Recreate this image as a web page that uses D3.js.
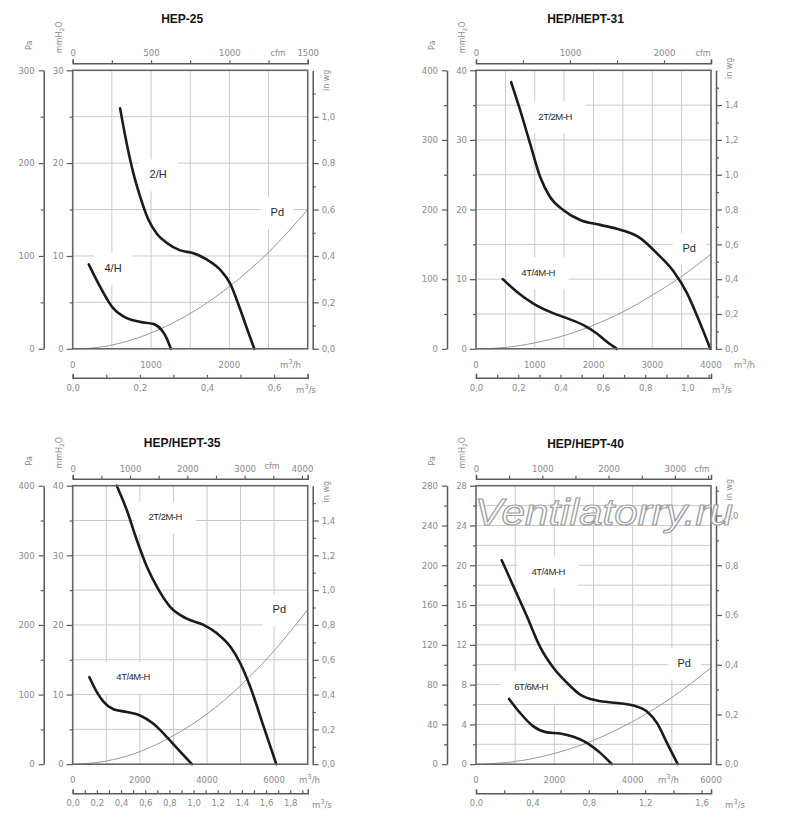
<!DOCTYPE html>
<meta charset="utf-8">
<script src="https://d3js.org/d3.v7.min.js"></script>
<style>
  body { margin: 0; background: #fff; }
  text { font-family: "DejaVu Sans", sans-serif; }
</style>
<div id="chart"></div>
<script>
// ---- data: [m3/h, Pa] ----
// HEP-25
var hep25_2H = [[605,259],[690,221],[775,189],[861,164],[967,139],[1074,124],[1202,114],[1372,106],[1542,103],[1714,96],[1884,85],[2012,70],[2140,42],[2245,17],[2318,0]];
var hep25_4H = [[205,91],[349,67],[519,43.5],[690,33],[861,29],[1031,26.6],[1138,20],[1202,11],[1253,0]];
var hep25_Pd = [[150,0],[500,4],[1000,17],[1500,38],[2000,67],[2500,104],[3000,150]];
// HEP/HEPT-31
var hep31_2T = [[597,383],[750,343],[920,295],[1091,247],[1261,218],[1489,199],[1773,185],[2114,178],[2455,171],[2795,159],[3080,137],[3364,111],[3591,80],[3818,36],[3989,0]];
var hep31_4T = [[455,100],[693,82],[977,65],[1261,53],[1545,44],[1830,34],[2057,22],[2227,10],[2398,0]];
var hep31_Pd = [[120,0],[500,2],[1000,8.5],[1500,19],[2000,34],[2500,53],[3000,77],[3500,104],[4000,136]];
// HEP/HEPT-35
var hep35_2T = [[1313,400],[1611,365],[1909,322],[2207,284],[2506,255],[2903,226],[3400,209],[3898,200],[4296,188],[4693,169],[4991,145],[5290,111],[5688,54],[6065,0]];
var hep35_4T = [[497,125],[716,104],[915,90],[1213,79],[1611,75],[2008,70],[2406,58],[2804,39],[3202,18],[3550,0]];
var hep35_Pd = [[120,0],[1000,4.5],[2000,18],[3000,41],[4000,72],[5000,113],[6000,163],[7000,222]];
// HEP/HEPT-40
var hep40_4T = [[657,205],[954,179],[1296,149],[1636,118],[1976,97],[2319,82],[2659,70],[3086,64],[3597,61.6],[4021,59],[4364,53],[4619,41.5],[4875,21.5],[5150,0]];
var hep40_6T = [[844,65.6],[1125,51.6],[1465,38],[1807,32],[2147,30.8],[2488,27.5],[2830,21.5],[3171,11.4],[3469,0]];
var hep40_Pd = [[190,0],[1000,2.7],[2000,10.8],[3000,24],[4000,43],[5000,67],[6000,97]];

// ---- tick labels ----
var hep25_flowLabels = [0, 1000, 2000];
var hep25_paLabels = [0, 100, 200, 300];
var hep25_cfmLabels = [0, 500, 1000, 1500];
var hep31_flowLabels = [0, 1000, 2000, 3000, 4000];
var hep31_paLabels = [0, 100, 200, 300, 400];
var hep31_cfmLabels = [0, 1000, 2000];
var hep35_flowLabels = [0, 2000, 4000, 6000];
var hep35_paLabels = [0, 100, 200, 300, 400];
var hep35_cfmLabels = [0, 1000, 2000, 3000, 4000];
var hep40_flowLabels = [0, 2000, 4000, 6000];
var hep40_paLabels = [0, 40, 80, 120, 160, 200, 240, 280];
var hep40_cfmLabels = [0, 1000, 2000, 3000];

var W = 235, H = 278.5;
var grey = "#8a8a8a", axisCol = "#5a5a5a";

var panels = [
  {title: "HEP-25", left: 72.7, top: 70.3, titleDy: 47, inwgDy: 10,
   flowMax: 3000, flowGrid: 500, flowLabels: hep25_flowLabels,
   paMax: 300, paGrid: 50, paLabels: hep25_paLabels,
   cfmMax: 1500, cfmStep: 250, cfmLabels: hep25_cfmLabels, cfmUnitX: 278, cfmUnitDy: 0,
   m3sMax: 0.7, m3sStep: 1, m3sLabel: 2, m3hUnitX: 290, m3sUnitX: 306,
   curves: [
     {pts: hep25_2H, name: "2/H", lx: 1091, ly: 188},
     {pts: hep25_4H, name: "4/H", lx: 515, ly: 87}
   ],
   pd: hep25_Pd, pdLabel: [2612, 147]},
  {title: "HEP/HEPT-31", left: 476, top: 70.3, titleDy: 47, inwgDy: -2,
   flowMax: 4000, flowGrid: 500, flowLabels: hep31_flowLabels,
   paMax: 400, paGrid: 50, paLabels: hep31_paLabels,
   cfmMax: 2500, cfmStep: 500, cfmLabels: hep31_cfmLabels, cfmUnitX: 703, cfmUnitDy: 0,
   m3sMax: 4000 / 3600, m3sStep: 1, m3sLabel: 2, m3hUnitX: 744, m3sUnitX: 722,
   curves: [
     {pts: hep31_2T, name: "2T/2M-H", lx: 1346, ly: 334},
     {pts: hep31_4T, name: "4T/4M-H", lx: 1057, ly: 110}
   ],
   pd: hep31_Pd, pdLabel: [3630, 145]},
  {title: "HEP/HEPT-35", left: 72.7, top: 485.7, titleDy: 39, inwgDy: 6,
   flowMax: 7000, flowGrid: 1000, flowLabels: hep35_flowLabels,
   paMax: 400, paGrid: 50, paLabels: hep35_paLabels,
   cfmMax: 4100, cfmStep: 500, cfmLabels: hep35_cfmLabels, cfmUnitX: 272, cfmUnitDy: -3,
   m3sMax: 7000 / 3600, m3sStep: 1, m3sLabel: 2, m3hUnitX: 309, m3sUnitX: 322,
   curves: [
     {pts: hep35_2T, name: "2T/2M-H", lx: 2754, ly: 355},
     {pts: hep35_4T, name: "4T/4M-H", lx: 1799, ly: 125}
   ],
   pd: hep35_Pd, pdLabel: [6155, 223]},
  {title: "HEP/HEPT-40", left: 476, top: 485.7, titleDy: 38, inwgDy: 4,
   flowMax: 6000, flowGrid: 1000, flowLabels: hep40_flowLabels,
   paMax: 280, paGrid: 20, paLabels: hep40_paLabels,
   cfmMax: 3545, cfmStep: 500, cfmLabels: hep40_cfmLabels, cfmUnitX: 702, cfmUnitDy: 0,
   m3sMax: 6000 / 3600, m3sStep: 2, m3sLabel: 4, m3hUnitX: 668, m3sUnitX: 735,
   curves: [
     {pts: hep40_4T, name: "4T/4M-H", lx: 1841, ly: 194},
     {pts: hep40_6T, name: "6T/6M-H", lx: 1406, ly: 78}
   ],
   pd: hep40_Pd, pdLabel: [5317, 102]}
];

var svg = d3.select("#chart").append("svg")
    .attr("width", 800)
    .attr("height", 825);

var comma = function(v) { return d3.format(".1f")(v).replace(".", ","); };

function styleAxis(sel) {
  sel.selectAll("text").attr("fill", grey).style("font-size", "8.5px").style("font-family", "DejaVu Sans");
  sel.selectAll(".tick line").attr("stroke", axisCol).attr("stroke-width", 1.2);
  sel.select(".domain").attr("stroke", axisCol).attr("stroke-width", 1.5);
}

function unitText(g, x, y, base, sup, rest) {
  var t = g.append("text").attr("x", x).attr("y", y)
    .attr("fill", grey).style("font-size", "8.5px");
  t.append("tspan").text(base);
  t.append("tspan").attr("dy", -4).style("font-size", "7px").text(sup);
  t.append("tspan").attr("dy", 4).text(rest);
  return t;
}

function drawPanel(p) {
  var g = svg.append("g");
  var x = d3.scaleLinear().domain([0, p.flowMax]).range([p.left, p.left + W]);
  var y = d3.scaleLinear().domain([0, p.paMax]).range([p.top + H, p.top]);

  // grid
  g.append("g").selectAll("line")
    .data(d3.range(p.flowGrid, p.flowMax, p.flowGrid))
    .join("line")
      .attr("x1", function(d) { return x(d); }).attr("x2", function(d) { return x(d); })
      .attr("y1", p.top).attr("y2", p.top + H)
      .attr("stroke", "#cacaca").attr("stroke-width", 1);
  g.append("g").selectAll("line")
    .data(d3.range(p.paGrid, p.paMax, p.paGrid))
    .join("line")
      .attr("x1", p.left).attr("x2", p.left + W)
      .attr("y1", function(d) { return y(d); }).attr("y2", function(d) { return y(d); })
      .attr("stroke", "#cacaca").attr("stroke-width", 1);

  // white boxes behind curve labels (they break the grid)
  var labs = p.curves.map(function(c) { return {name: c.name, x: c.lx, y: c.ly, big: false}; });
  labs.push({name: "Pd", x: p.pdLabel[0], y: p.pdLabel[1], big: true});
  var lw = function(d) { return d.name.length * 5.6 + 22; };
  g.append("g").selectAll("rect")
    .data(labs)
    .join("rect")
      .attr("x", function(d) { return x(d.x) - lw(d) / 2; })
      .attr("y", function(d) { return y(d.y) - 15; })
      .attr("width", lw)
      .attr("height", 32)
      .attr("fill", "#fff");

  var line = d3.line()
    .x(function(d) { return x(d[0]); })
    .y(function(d) { return y(d[1]); })
    .curve(d3.curveMonotoneX);

  // Pd
  g.append("path").datum(p.pd)
    .attr("d", line)
    .attr("fill", "none").attr("stroke", "#8c8c8c").attr("stroke-width", 0.9);

  // fan curves
  g.selectAll(".curve")
    .data(p.curves)
    .join("path")
      .attr("class", "curve")
      .attr("d", function(d) { return line(d.pts); })
      .attr("fill", "none").attr("stroke", "#1b1b1b").attr("stroke-width", 2.6)
      .attr("stroke-linecap", "round");

  // curve labels
  g.append("g").selectAll("text")
    .data(labs)
    .join("text")
      .attr("x", function(d) { return x(d.x); })
      .attr("y", function(d) { return y(d.y); })
      .attr("dy", "0.35em")
      .attr("text-anchor", "middle")
      .style("font-family", "Liberation Sans")
      .style("font-size", function(d) { return d.big ? "11px" : (d.name.length > 4 ? "9.5px" : "11px"); })
      .style("letter-spacing", function(d) { return d.name.length > 4 ? "-0.5px" : "0px"; })
      .attr("fill", "#2a2a2a")
      .text(function(d) { return d.name; });

  // plot frame
  g.append("rect")
    .attr("x", p.left).attr("y", p.top).attr("width", W).attr("height", H)
    .attr("fill", "none").attr("stroke", "#666").attr("stroke-width", 1.6);

  // Pa axis (outer left)
  var paTicks = d3.range(0, p.paMax + 0.001, p.paGrid);
  var paAx = g.append("g")
    .attr("transform", "translate(" + (p.left - 29) + ",0)")
    .call(d3.axisLeft(y).tickValues(paTicks).tickSize(5).tickSizeOuter(0).tickPadding(4)
      .tickFormat(function(d) { return p.paLabels.indexOf(d) >= 0 ? d : ""; }));
  styleAxis(paAx);
  paAx.selectAll(".tick").filter(function(d) { return p.paLabels.indexOf(d) < 0; })
    .select("line").attr("x2", -3);

  // mmH2O axis (on the frame)
  var ymm = d3.scaleLinear().domain([0, p.paMax / 10]).range([p.top + H, p.top]);
  var mmAx = g.append("g")
    .attr("transform", "translate(" + p.left + ",0)")
    .call(d3.axisLeft(ymm).tickValues(paTicks.map(function(d) { return d / 10; }))
      .tickSize(6).tickSizeOuter(0).tickPadding(3)
      .tickFormat(function(d) { return p.paLabels.indexOf(d * 10) >= 0 ? d : ""; }));
  styleAxis(mmAx);
  mmAx.select(".domain").attr("stroke", "none");
  mmAx.selectAll(".tick").filter(function(d) { return p.paLabels.indexOf(d * 10) < 0; })
    .select("line").attr("x2", -3);

  // in wg axis (right)
  var inMax = p.paMax / 250;
  var yin = d3.scaleLinear().domain([0, inMax]).range([p.top + H, p.top]);
  var inTicks = d3.range(0, Math.floor(inMax * 10 - 0.01) + 1).map(function(i) { return i / 10; });
  var inAx = g.append("g")
    .attr("transform", "translate(" + (p.left + W + 5) + ",0)")
    .call(d3.axisRight(yin).tickValues(inTicks).tickSize(6).tickSizeOuter(0).tickPadding(3)
      .tickFormat(function(d) { return Math.round(d * 10) % 2 === 0 ? comma(d) : ""; }));
  styleAxis(inAx);
  inAx.selectAll(".tick").filter(function(d) { return Math.round(d * 10) % 2 !== 0; })
    .select("line").attr("x2", 3);

  // cfm axis (top)
  var xc = d3.scaleLinear().domain([0, p.cfmMax]).range([p.left, p.left + W]);
  var cfmAx = g.append("g")
    .attr("transform", "translate(0," + (p.top - 7) + ")")
    .call(d3.axisTop(xc).tickValues(d3.range(0, p.cfmMax + 0.001, p.cfmStep))
      .tickSize(3).tickSizeOuter(4).tickPadding(4)
      .tickFormat(function(d) { return p.cfmLabels.indexOf(d) >= 0 ? d : ""; }));
  styleAxis(cfmAx);

  // m3/s axis (bottom)
  var xs = d3.scaleLinear().domain([0, p.m3sMax]).range([p.left, p.left + W]);
  var sTicks = d3.range(0, Math.floor(p.m3sMax * 10 + 0.001) + 1, p.m3sStep).map(function(i) { return i / 10; });
  var sAx = g.append("g")
    .attr("transform", "translate(0," + (p.top + H + 29) + ")")
    .call(d3.axisBottom(xs).tickValues(sTicks).tickSize(-3).tickSizeOuter(-4).tickPadding(7)
      .tickFormat(function(d) { return Math.round(d * 10) % p.m3sLabel === 0 ? comma(d) : ""; }));
  styleAxis(sAx);

  // m3/h labels under the frame
  g.append("g").selectAll("text")
    .data(p.flowLabels)
    .join("text")
      .attr("x", function(d) { return x(d); })
      .attr("y", p.top + H + 19)
      .attr("text-anchor", "middle")
      .attr("fill", grey).style("font-size", "8.5px")
      .text(function(d) { return d; });

  // units
  unitText(g, p.m3hUnitX - 10, p.top + H + 19, "m", "3", "/h");
  unitText(g, p.m3sUnitX - 10, p.top + H + 44, "m", "3", "/s");
  g.append("text").attr("x", p.cfmUnitX).attr("y", p.top - 14 + p.cfmUnitDy)
    .attr("text-anchor", "middle").attr("fill", grey).style("font-size", "8px").text("cfm");

  // rotated axis titles
  g.append("text")
    .attr("transform", "translate(" + (p.left - 41) + "," + (p.top - 25) + ")rotate(-90)")
    .attr("text-anchor", "middle").attr("fill", grey).style("font-size", "8px").text("Pa");
  var mm = g.append("text")
    .attr("transform", "translate(" + (p.left - 11) + "," + (p.top - 33) + ")rotate(-90)")
    .attr("text-anchor", "middle").attr("fill", grey).style("font-size", "8px");
  mm.append("tspan").text("mmH");
  mm.append("tspan").attr("dy", 2).style("font-size", "6px").text("2");
  mm.append("tspan").attr("dy", -2).text("O");
  g.append("text")
    .attr("transform", "translate(" + (p.left + W + 21) + "," + (p.top + p.inwgDy) + ")rotate(-90)")
    .attr("text-anchor", "middle").attr("fill", grey).style("font-size", "8px").text("in wg");

  // title
  g.append("text")
    .attr("x", p.left + W / 2 - 8)
    .attr("y", p.top - p.titleDy)
    .attr("text-anchor", "middle")
    .style("font-family", "Liberation Sans")
    .style("font-weight", "bold")
    .style("font-size", "12px")
    .attr("fill", "#151515")
    .text(p.title);
}

panels.forEach(drawPanel);

// watermark over the last panel
svg.append("text")
  .attr("x", 475).attr("y", 525)
  .attr("textLength", 258).attr("lengthAdjust", "spacingAndGlyphs")
  .style("font-family", "Liberation Sans")
  .style("font-style", "italic")
  .style("font-size", "37px")
  .attr("fill", "#fff")
  .attr("stroke", "#a0a0a0").attr("stroke-width", 1.2)
  .text("Ventilatorry.ru");
</script>
